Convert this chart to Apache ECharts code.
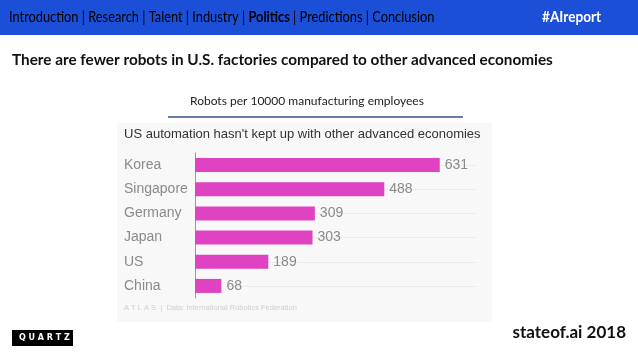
<!DOCTYPE html>
<html><head><meta charset="utf-8">
<script src="https://cdn.jsdelivr.net/npm/echarts@6/dist/echarts.min.js"></script>
<style>html,body{margin:0;padding:0;background:#fff}#c{width:638px;height:359px}</style>
</head><body><div id="c"></div>
<script>
var categories = ['Korea', 'Singapore', 'Germany', 'Japan', 'US', 'China'];
var robots = [631, 488, 309, 303, 189, 68];
var navItems = ['Introduction', 'Research', 'Talent', 'Industry', 'Politics', 'Predictions', 'Conclusion'];

var chart = echarts.init(document.getElementById('c'), null, {renderer: 'canvas'});

var navFont = 'Lato';
var navRich = {n: {color: '#a7bdf2', fontSize: 16, fontFamily: navFont}, b: {color: '#ffffff', fontSize: 16, fontWeight: 'bold', fontFamily: navFont}};
var navText = navItems.map(function (s) { return s === 'Politics' ? '{b|' + s + '}' : '{n|' + s + '}'; }).join('{n| | }');

chart.setOption({
  animation: false,
  backgroundColor: '#ffffff',
  graphic: [
    {type: 'rect', shape: {x: 0, y: 0, width: 638, height: 35}, style: {fill: '#1b4fd8'}, z: 0},
    {type: 'text', x: 9, y: 9, scaleX: 0.8, style: {text: navText, rich: navRich}},
    {type: 'text', x: 542, y: 9, scaleX: 0.85, style: {text: '#AIreport', fill: '#fff', font: 'bold 16px Lato'}},
    {type: 'text', left: 12, top: 53, style: {text: 'There are fewer robots in U.S. factories compared to other advanced economies', fill: '#111', font: 'bold 15.3px Lato'}},
    {type: 'text', left: 190, top: 95, style: {text: 'Robots per 10000 manufacturing employees', fill: '#222', font: '12px Lato'}},
    {type: 'line', shape: {x1: 168, y1: 117, x2: 463, y2: 117}, style: {stroke: '#3b4f92', lineWidth: 1.5}},
    {type: 'rect', shape: {x: 117, y: 123, width: 375, height: 199}, style: {fill: '#f8f8f8'}, z: -10},
    {type: 'text', left: 124, top: 128, style: {text: "US automation hasn't kept up with other advanced economies", fill: '#333', font: '13px "Liberation Sans"'}},
    {type: 'text', left: 124, top: 304, style: {text: 'A T L A S  |  Data: International Robotics Federation', fill: '#cfcfcf', font: '7.5px "Liberation Sans"'}},
    {type: 'rect', shape: {x: 12, y: 330, width: 61, height: 16}, style: {fill: '#000'}},
    {type: 'text', left: 19, top: 334, style: {text: 'Q U A R T Z', fill: '#fff', font: 'bold 8px "DejaVu Sans"'}},
    {type: 'text', right: 12, top: 324, style: {text: 'stateof.ai 2018', fill: '#111', font: 'bold 17px Lato'}}
  ],
  grid: {left: 195, top: 153, height: 145, width: 282, containLabel: false},
  xAxis: {type: 'value', min: 0, max: 727, show: false},
  yAxis: {
    type: 'category', data: categories, inverse: true,
    axisLine: {show: true, lineStyle: {color: '#999', width: 1}},
    axisTick: {show: false},
    axisLabel: {align: 'left', margin: 71, color: '#8a8a8a', fontSize: 14, fontFamily: 'Liberation Sans'},
    splitLine: {show: false}
  },
  series: [
    {
      type: 'line', data: [], z: 1, silent: true,
      markLine: {
        z: 1, silent: true, symbol: 'none', label: {show: false},
        lineStyle: {color: '#ececec', width: 1, type: 'solid'},
        data: categories.map(function (c) { return {yAxis: c}; })
      }
    },
    {
      type: 'bar', data: robots, barWidth: 14, z: 3,
      itemStyle: {color: '#e043c2'},
      label: {show: true, position: 'right', distance: 5, color: '#8a8a8a', fontSize: 14, fontFamily: 'Liberation Sans'}
    }
  ]
});
</script></body></html>
